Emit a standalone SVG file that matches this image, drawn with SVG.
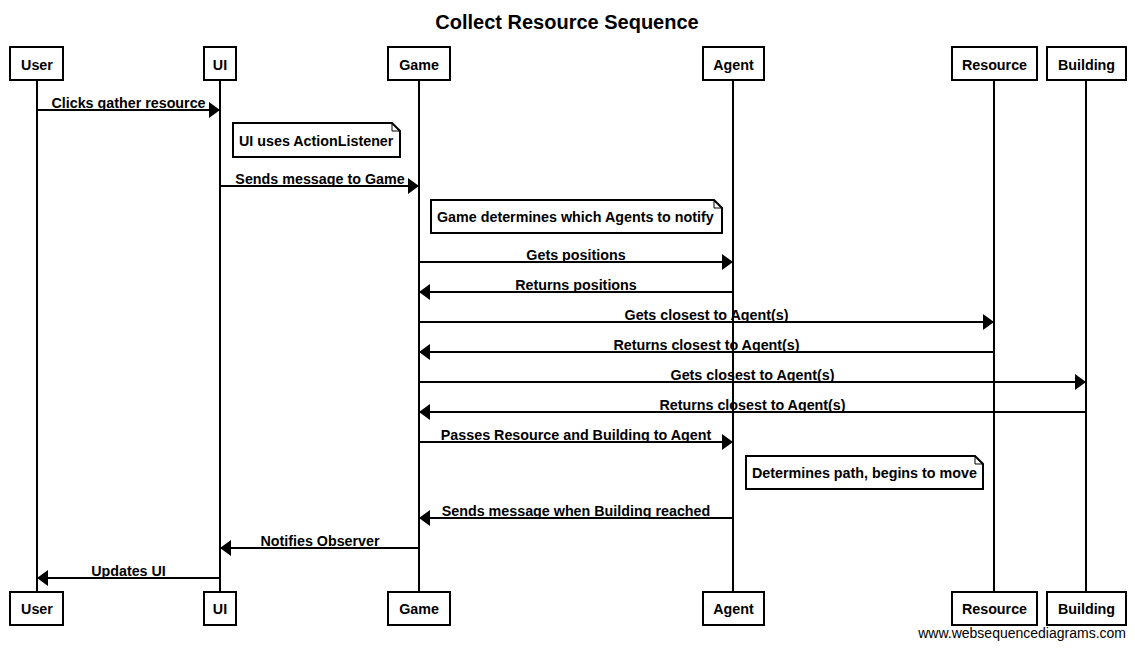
<svg xmlns="http://www.w3.org/2000/svg" width="1135" height="648" viewBox="0 0 1135 648">
<style>
text{font-family:"Liberation Sans",Arial,sans-serif;fill:#000}
.t{font-size:20px;font-weight:bold;text-anchor:middle}
.p{font-size:14.3px;font-weight:bold;text-anchor:middle}
.m{font-size:14.3px;font-weight:bold;text-anchor:middle}
.n{font-size:14.3px;font-weight:bold}
.box{fill:#fff;stroke:#000;stroke-width:2}
.life{stroke:#000;stroke-width:2}
.msg{stroke:#000;stroke-width:2;fill:none;marker-end:url(#ah)}
.note{fill:#fff;stroke:#000;stroke-width:2}
.w{font-size:14px;text-anchor:end}
</style>
<defs>
<marker id="ah" markerUnits="userSpaceOnUse" markerWidth="12" markerHeight="18" refX="11" refY="8.5" orient="auto">
<path d="M0,0.5 L11,8.5 L0,16.5 z" fill="#000"/>
</marker>
</defs>
<rect width="1135" height="648" fill="#fff"/>
<text class="t" x="567" y="29">Collect Resource Sequence</text>

<g id="lifelines">
<line class="life" x1="37" y1="80" x2="37" y2="592"/>
<line class="life" x1="220" y1="80" x2="220" y2="592"/>
<line class="life" x1="419" y1="80" x2="419" y2="592"/>
<line class="life" x1="733" y1="80" x2="733" y2="592"/>
<line class="life" x1="994" y1="80" x2="994" y2="592"/>
<line class="life" x1="1086" y1="80" x2="1086" y2="592"/>
</g>

<g id="User">
<rect class="box" x="10" y="47" width="53" height="33"/><text class="p" x="37" y="70">User</text>
<rect class="box" x="10" y="592" width="53" height="33"/><text class="p" x="37" y="614">User</text>
</g>
<g id="UI">
<rect class="box" x="204" y="47" width="32" height="33"/><text class="p" x="220" y="70">UI</text>
<rect class="box" x="204" y="592" width="32" height="33"/><text class="p" x="220" y="614">UI</text>
</g>
<g id="Game">
<rect class="box" x="388" y="47" width="62" height="33"/><text class="p" x="419" y="70">Game</text>
<rect class="box" x="388" y="592" width="62" height="33"/><text class="p" x="419" y="614">Game</text>
</g>
<g id="Agent">
<rect class="box" x="703" y="47" width="61" height="33"/><text class="p" x="733.5" y="70">Agent</text>
<rect class="box" x="703" y="592" width="61" height="33"/><text class="p" x="733.5" y="614">Agent</text>
</g>
<g id="Resource">
<rect class="box" x="952" y="47" width="85" height="33"/><text class="p" x="994.5" y="70">Resource</text>
<rect class="box" x="952" y="592" width="85" height="33"/><text class="p" x="994.5" y="614">Resource</text>
</g>
<g id="Building">
<rect class="box" x="1047" y="47" width="79" height="33"/><text class="p" x="1086.5" y="70">Building</text>
<rect class="box" x="1047" y="592" width="79" height="33"/><text class="p" x="1086.5" y="614">Building</text>
</g>

<g id="note1">
<path class="note" d="M233,123 H392 L400,131 V157 H233 Z"/>
<path d="M392,123 V131 H400" fill="none" stroke="#000" stroke-width="1"/>
<text class="n" x="239" y="146">UI uses ActionListener</text>
</g>
<g id="note2">
<path class="note" d="M431,200 H714 L722,208 V233 H431 Z"/>
<path d="M714,200 V208 H722" fill="none" stroke="#000" stroke-width="1"/>
<text class="n" x="437" y="222">Game determines which Agents to notify</text>
</g>
<g id="note3">
<path class="note" d="M746,456 H975 L983,464 V489 H746 Z"/>
<path d="M975,456 V464 H983" fill="none" stroke="#000" stroke-width="1"/>
<text class="n" x="752" y="478">Determines path, begins to move</text>
</g>

<g id="connectors">
<line class="msg" x1="37" y1="110" x2="220" y2="110"/>
<text class="m" x="128.5" y="108">Clicks gather resource</text>
<line class="msg" x1="220" y1="186" x2="419" y2="186"/>
<text class="m" x="320" y="184">Sends message to Game</text>
<line class="msg" x1="419" y1="262" x2="733" y2="262"/>
<text class="m" x="576" y="260">Gets positions</text>
<line class="msg" x1="733" y1="292" x2="419" y2="292"/>
<text class="m" x="576" y="290">Returns positions</text>
<line class="msg" x1="419" y1="322" x2="994" y2="322"/>
<text class="m" x="706.5" y="320">Gets closest to Agent(s)</text>
<line class="msg" x1="994" y1="352" x2="419" y2="352"/>
<text class="m" x="706.5" y="350">Returns closest to Agent(s)</text>
<line class="msg" x1="419" y1="382" x2="1086" y2="382"/>
<text class="m" x="752.5" y="380">Gets closest to Agent(s)</text>
<line class="msg" x1="1086" y1="412" x2="419" y2="412"/>
<text class="m" x="752.5" y="410">Returns closest to Agent(s)</text>
<line class="msg" x1="419" y1="442" x2="733" y2="442"/>
<text class="m" x="576" y="440">Passes Resource and Building to Agent</text>
<line class="msg" x1="733" y1="518" x2="419" y2="518"/>
<text class="m" x="576" y="516">Sends message when Building reached</text>
<line class="msg" x1="419" y1="548" x2="220" y2="548"/>
<text class="m" x="320" y="546">Notifies Observer</text>
<line class="msg" x1="220" y1="578" x2="37" y2="578"/>
<text class="m" x="128.5" y="576">Updates UI</text>
</g>

<text class="w" x="1126" y="638">www.websequencediagrams.com</text>
</svg>
